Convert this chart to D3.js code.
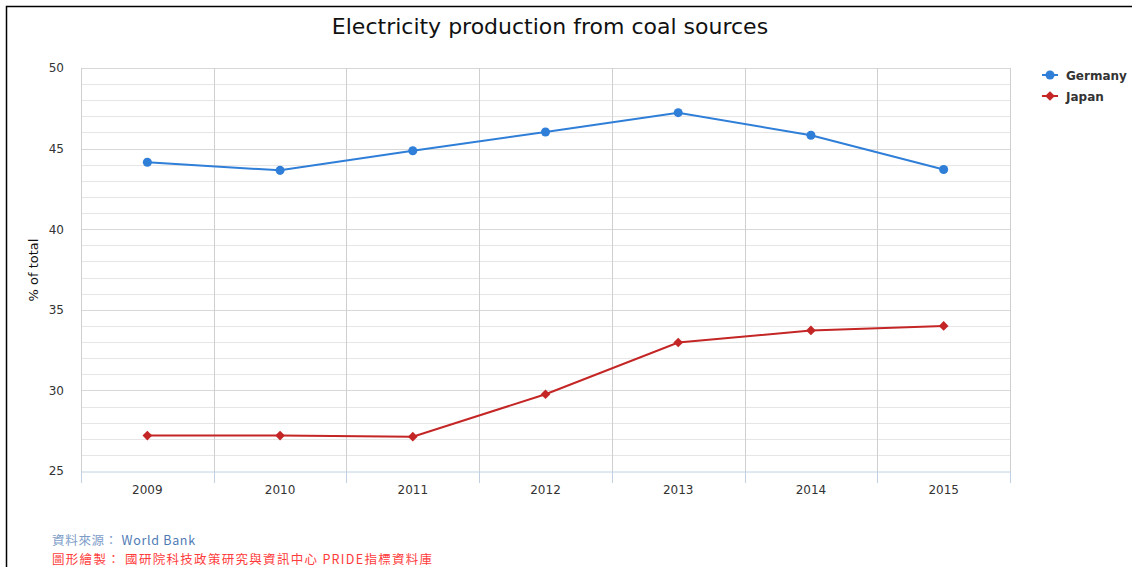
<!DOCTYPE html>
<html><head><meta charset="utf-8">
<script src="https://cdn.jsdelivr.net/npm/d3@7"></script>
<style>
body{margin:0;background:#fff;}
svg{display:block;font-family:"DejaVu Sans",sans-serif;}
</style></head>
<body><svg id="c" width="1132" height="567"></svg>
<script>
const years = ["2009","2010","2011","2012","2013","2014","2015"];
const germany = [44.15, 43.65, 44.87, 46.03, 47.23, 45.83, 43.7];
const japan = [27.2, 27.2, 27.13, 29.76, 32.97, 33.72, 34.0];
const yTicks = [25, 30, 35, 40, 45, 50];
const seriesNames = ["Germany", "Japan"];
const seriesColors = ["#2f7ed8", "#c42525"];

const svg = d3.select("#c");
const L = 81, R = 1010, T = 68, B = 471;
const x = d3.scaleBand().domain(years).range([L, R]);
const y = d3.scaleLinear().domain([25, 50]).range([B, T]);

// border
svg.append("path").attr("d", "M6.5,567 L6.5,6.5 L1132,6.5").attr("fill","none").attr("stroke","#000").attr("stroke-width",1.5);

// minor grid
const minor = d3.range(25, 50.01, 1).filter(v => v % 5 !== 0);
svg.append("g").selectAll("line").data(minor).join("line")
  .attr("x1", L).attr("x2", R).attr("y1", d => Math.round(y(d))+0.5).attr("y2", d => Math.round(y(d))+0.5)
  .attr("stroke", "#e6e6e6").attr("stroke-width", 1);
// major grid
svg.append("g").selectAll("line").data(yTicks.filter(v=>v!==25)).join("line")
  .attr("x1", L).attr("x2", R).attr("y1", d => Math.round(y(d))+0.5).attr("y2", d => Math.round(y(d))+0.5)
  .attr("stroke", "#d8d8d8").attr("stroke-width", 1);
// vertical grid at category boundaries
const bounds = years.map(d => x(d)).concat([R]);
svg.append("g").selectAll("line").data(bounds).join("line")
  .attr("x1", d => Math.round(d)+0.5).attr("x2", d => Math.round(d)+0.5).attr("y1", T).attr("y2", B)
  .attr("stroke", "#cfcfcf").attr("stroke-width", 1);

// x axis
const xAxis = d3.axisBottom(x).tickSize(0).tickPadding(14);
const gx = svg.append("g").attr("transform", `translate(0,${B+0.5})`).call(xAxis);
gx.select(".domain").attr("stroke", "#c0d0e0");
gx.selectAll("text").attr("font-size", 12).attr("fill", "#333").attr("font-family","DejaVu Sans");
svg.append("g").selectAll("line").data(bounds).join("line")
  .attr("x1", d => Math.round(d)+0.5).attr("x2", d => Math.round(d)+0.5).attr("y1", B).attr("y2", B+12)
  .attr("stroke", "#c0d0e0").attr("stroke-width", 1);

// y axis labels
const yAxis = d3.axisLeft(y).tickValues(yTicks).tickSize(0).tickPadding(17);
const gy = svg.append("g").attr("transform", `translate(${L},0)`).call(yAxis);
gy.select(".domain").remove();
gy.selectAll("text").attr("font-size", 12).attr("fill", "#333").attr("font-family","DejaVu Sans");

svg.append("text").attr("transform", "translate(38,270) rotate(-90)").attr("text-anchor","middle")
  .attr("font-size", 13).attr("fill","#111").text("% of total");

// title
svg.append("text").attr("x", 550).attr("y", 34).attr("text-anchor","middle").attr("font-size", 22)
  .attr("fill","#111").text("Electricity production from coal sources");

// lines
const cx = d => x(d) + x.bandwidth()/2;
const allData = [germany, japan];
allData.forEach((vals, i) => {
  const pts = years.map((yr, j) => [cx(yr), y(vals[j])]);
  svg.append("path").attr("d", d3.line()(pts)).attr("fill","none").attr("stroke", seriesColors[i]).attr("stroke-width", 2);
  const sym = i === 0 ? d3.symbolCircle : d3.symbolDiamond2;
  const size = i === 0 ? 64 : 60;
  svg.append("g").selectAll("path").data(pts).join("path")
    .attr("transform", p => `translate(${p[0]},${p[1]})`)
    .attr("d", d3.symbol().type(sym).size(size)).attr("fill", seriesColors[i]);
});

// legend
seriesNames.forEach((n, i) => {
  const ly = 75 + i * 21;
  const g = svg.append("g");
  g.append("line").attr("x1", 1042).attr("x2", 1058).attr("y1", ly).attr("y2", ly).attr("stroke", seriesColors[i]).attr("stroke-width", 2);
  g.append("path").attr("transform", `translate(1050,${ly})`)
    .attr("d", d3.symbol().type(i===0?d3.symbolCircle:d3.symbolDiamond2).size(i===0?64:60)).attr("fill", seriesColors[i]);
  g.append("text").attr("x", 1066).attr("y", ly + 4.5).attr("font-size", 12).attr("font-weight","bold").attr("fill","#333").text(n);
});

// footer
const ff = "'Noto Sans CJK TC','DejaVu Sans',sans-serif";
const f1 = svg.append("text").attr("x", 52).attr("y", 545).attr("font-size", 12.5).attr("letter-spacing", 0.7).attr("font-family", ff);
f1.append("tspan").attr("fill","#7d9cc8").text("資料來源： ");
f1.append("tspan").attr("fill","#4f7bb5").text("World Bank");
svg.append("text").attr("x", 52).attr("y", 564).attr("font-size", 12.5).attr("letter-spacing", 1.3).attr("font-family", ff)
  .attr("fill","#ff3c3c").text("圖形繪製： 國研院科技政策研究與資訊中心 PRIDE指標資料庫");
</script></body></html>
